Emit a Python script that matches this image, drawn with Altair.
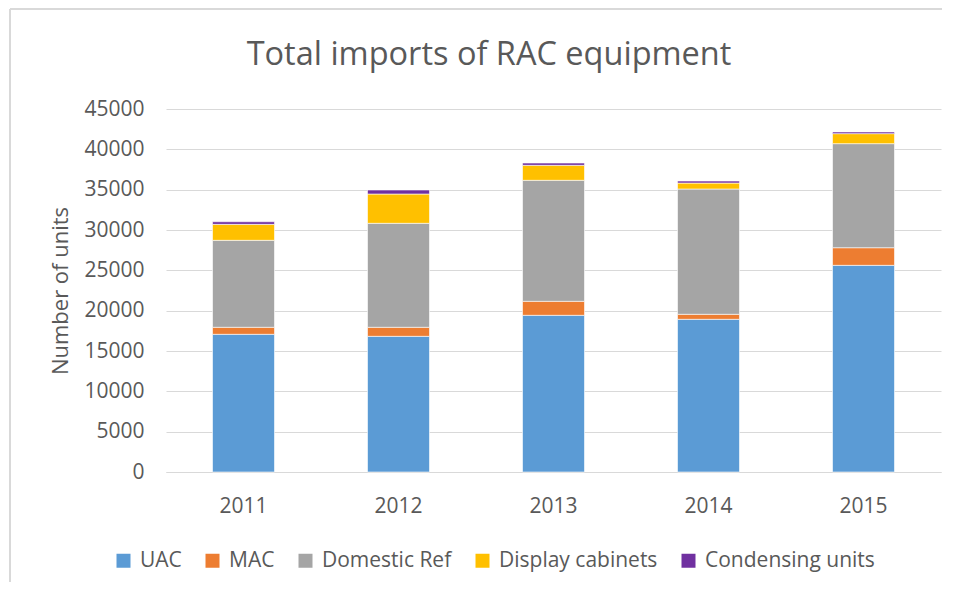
import altair as alt
import pandas as pd

title_text = "Total imports of RAC equipment"
years = ["2011", "2012", "2013", "2014", "2015"]
series = ["UAC", "MAC", "Domestic Ref", "Display cabinets", "Condensing units"]
colors = ["#5B9BD5", "#ED7D31", "#A5A5A5", "#FFC000", "#7030A0"]

uac = [17070, 16820, 19425, 18930, 25620]
mac = [870, 1120, 1735, 620, 2185]
domestic = [10780, 12890, 15000, 15530, 12900]
display = [1980, 3630, 1860, 740, 1240]
condensing = [320, 500, 280, 250, 210]

values = [uac, mac, domestic, display, condensing]
rows = []
for si, (name, vals) in enumerate(zip(series, values)):
    for y, v in zip(years, vals):
        rows.append({"Year": y, "Series": name, "Units": v, "idx": si})
df = pd.DataFrame(rows)

FONT = "Open Sans"
TXT = "#595959"
GRID = "#D9D9D9"

bars = alt.Chart(df).mark_bar(stroke="white", strokeWidth=0.6).encode(
    x=alt.X("Year:N", sort=years,
            scale=alt.Scale(paddingInner=0.6, paddingOuter=0.3),
            axis=alt.Axis(title=None, labelAngle=0, ticks=False, domain=True,
                          domainColor=GRID, domainWidth=1, labelPadding=23,
                          labelFontSize=21, labelFont=FONT, labelColor=TXT, grid=False)),
    y=alt.Y("Units:Q", stack="zero",
            scale=alt.Scale(domain=[0, 45000], nice=False),
            axis=alt.Axis(title="Number of units", values=list(range(0, 45001, 5000)),
                          format="d",
                          ticks=False, domain=False, gridColor=GRID, gridWidth=1,
                          labelPadding=22, labelFontSize=21, labelFont=FONT, labelColor=TXT,
                          titleFontSize=22, titleFont=FONT, titleColor=TXT,
                          titleFontWeight="normal", titlePadding=11)),
    color=alt.Color("Series:N", scale=alt.Scale(domain=series, range=colors),
                    legend=alt.Legend(title=None, orient="none", direction="horizontal",
                                      legendX=-53, legendY=441,
                                      symbolType="square", symbolSize=196,
                                      symbolStrokeWidth=0,
                                      labelFontSize=21, labelFont=FONT, labelColor=TXT,
                                      labelOffset=6, columnPadding=20, labelLimit=400)),
    order=alt.Order("idx:Q", sort="ascending"),
)

frame_df = pd.DataFrame({"k": [0]})
left_border = alt.Chart(frame_df).mark_rule(color=GRID, strokeWidth=2).encode(
    x=alt.value(-156), x2=alt.value(-156), y=alt.value(-100), y2=alt.value(474)
)
top_border = alt.Chart(frame_df).mark_rule(color=GRID, strokeWidth=2).encode(
    x=alt.value(-156), x2=alt.value(776), y=alt.value(-100), y2=alt.value(-100)
)
title = alt.Chart(frame_df).mark_text(
    text=title_text, font=FONT, fontSize=32.5, color=TXT,
    align="center", baseline="middle"
).encode(x=alt.value(323), y=alt.value(-54))

chart = alt.layer(left_border, top_border, title, bars).properties(
    width=775,
    height=363,
    autosize=alt.AutoSizeParams(type="none"),
    padding={"left": 158, "top": 101, "right": 1, "bottom": 110},
).configure_view(stroke=None)

chart.save("out.html", embed_options={"renderer": "svg", "actions": False})
